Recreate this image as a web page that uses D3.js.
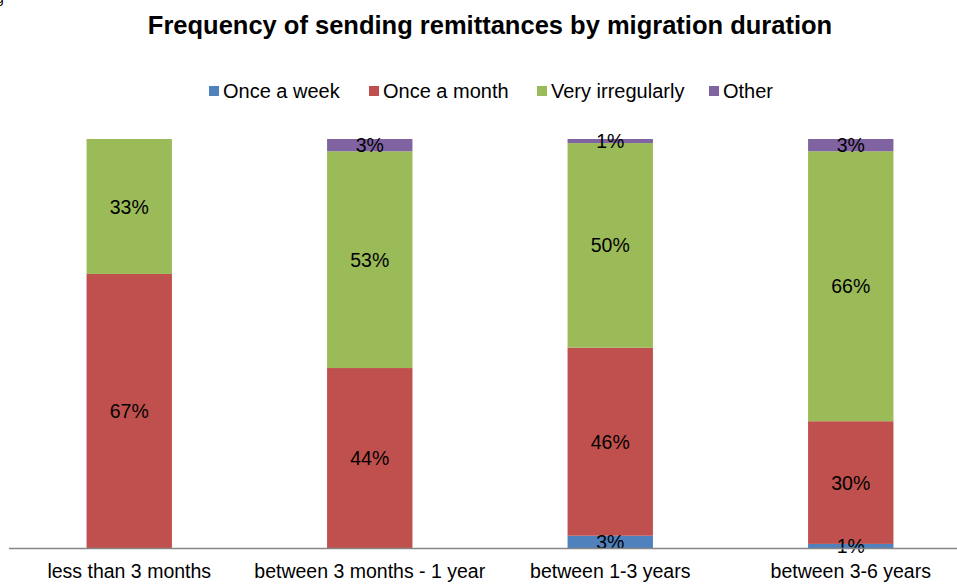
<!DOCTYPE html>
<html><head><meta charset="utf-8">
<script src="https://cdn.jsdelivr.net/npm/d3@7"></script>
<style>body{margin:0;background:#fff;}svg{display:block;font-family:"Liberation Sans",Arial,sans-serif;}</style>
</head><body>
<svg id="c" width="957" height="585"></svg>
<script>
const categories = ["less than 3 months","between 3 months - 1 year","between 1-3 years","between 3-6 years"];
const seriesNames = ["Once a week","Once a month","Very irregularly","Other"];
const onceAWeek = [0, 0, 3, 1];
const onceAMonth = [67, 44, 46, 30];
const veryIrregularly = [33, 53, 50, 66];
const other = [0, 3, 1, 3];
const colors = ["#4F81BD","#C0504D","#9BBB59","#8064A2"];

const values = [onceAWeek, onceAMonth, veryIrregularly, other];
const rows = categories.map((c,i)=>{const r={cat:c}; seriesNames.forEach((s,j)=>r[s]=values[j][i]); return r;});
const stack = d3.stack().keys(seriesNames)(rows);

const svg = d3.select("#c");
const x = d3.scaleBand().domain(categories).range([9,971]).paddingInner(0.645).paddingOuter(0.3225);
const y = d3.scaleLinear().domain([0,100]).range([548,139]);

svg.append("text").attr("x",-4).attr("y",3).attr("font-size",14).attr("fill","#000").text("g");

svg.append("text").attr("x",490).attr("y",34).attr("text-anchor","middle")
  .attr("font-size",25.5).attr("font-weight","bold").text("Frequency of sending remittances by migration duration");

const g = svg.append("g");
stack.forEach((layer,j)=>{
  g.selectAll(null).data(layer.filter(d=>d[1]-d[0]>0)).join("rect")
    .attr("x",d=>x(d.data.cat)).attr("width",x.bandwidth())
    .attr("y",d=>y(d[1])).attr("height",d=>y(d[0])-y(d[1]))
    .attr("fill",colors[j]);
});
svg.append("line").attr("x1",9).attr("x2",957).attr("y1",548.5).attr("y2",548.5).attr("stroke","#868686").attr("stroke-width",1.3);
stack.forEach((layer,j)=>{
  g.selectAll(null).data(layer.filter(d=>d[1]-d[0]>0)).join("text")
    .attr("x",d=>x(d.data.cat)+x.bandwidth()/2).attr("y",d=>(y(d[0])+y(d[1]))/2)
    .attr("dy","0.36em").attr("text-anchor","middle").attr("font-size",19.5).attr("fill","#000")
    .text(d=>(d[1]-d[0])+"%");
});

const xAxis = svg.append("g").attr("transform","translate(0,548)")
  .call(d3.axisBottom(x).tickSize(0).tickPadding(16));
xAxis.select(".domain").remove();
xAxis.selectAll("text").attr("font-size",19.5).attr("fill","#000").attr("font-family","Liberation Sans, Arial, sans-serif");

const legendX = [209,369,537,709];
const lg = svg.append("g");
seriesNames.forEach((s,i)=>{
  lg.append("rect").attr("x",legendX[i]).attr("y",86).attr("width",10).attr("height",10).attr("fill",colors[i]);
  lg.append("text").attr("x",legendX[i]+14).attr("y",91).attr("dy","0.36em").attr("font-size",20).text(s);
});
</script>
</body></html>
